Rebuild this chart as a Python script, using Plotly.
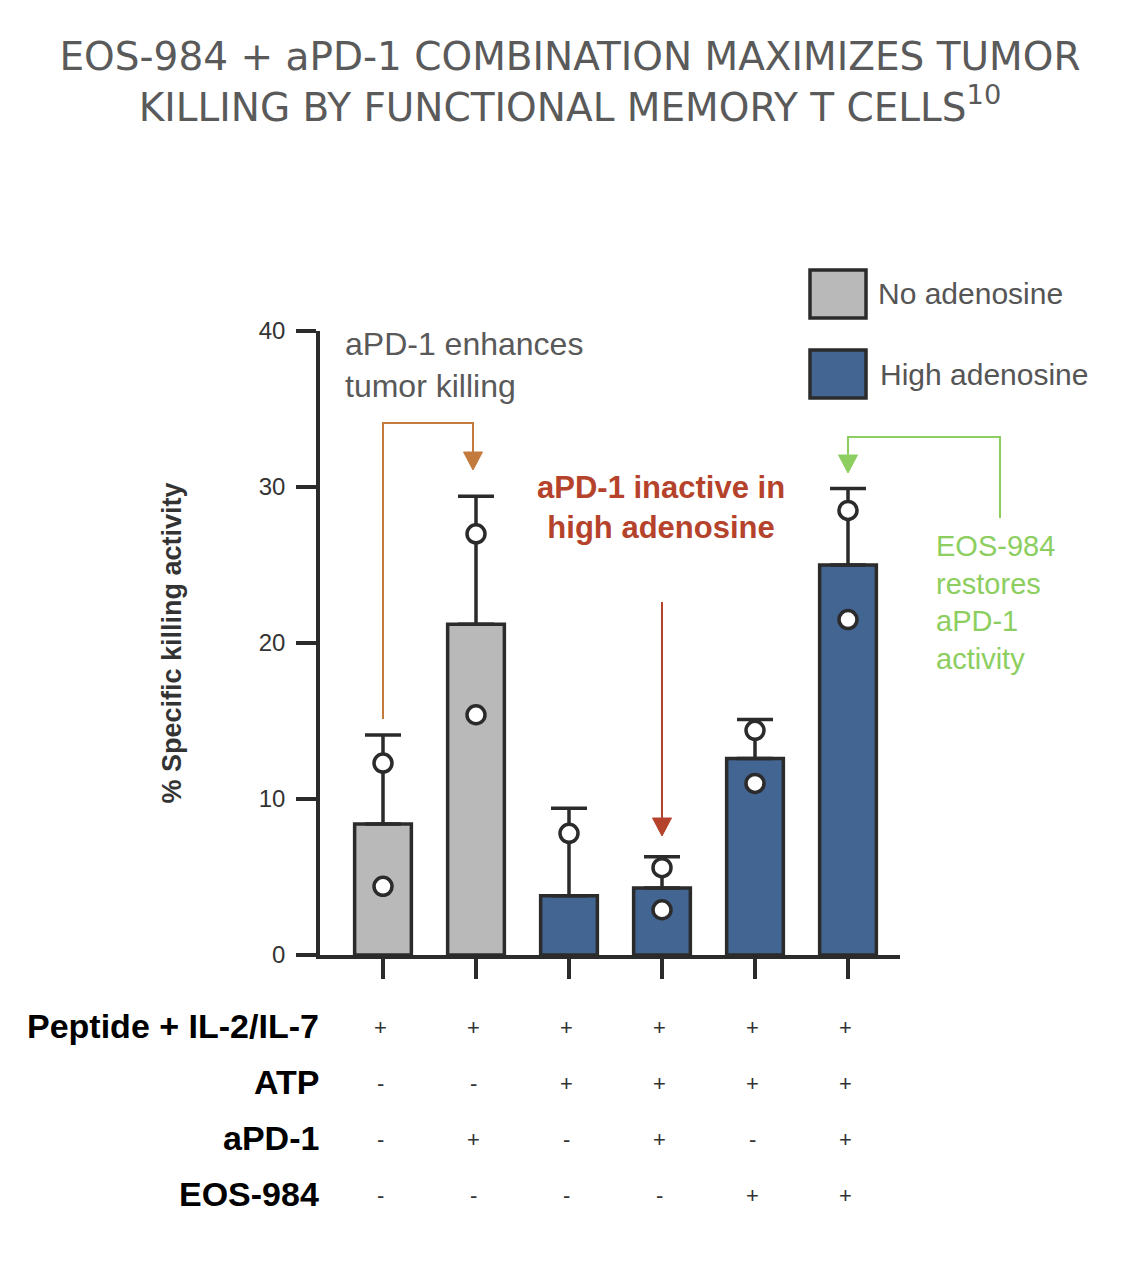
import plotly.graph_objects as go

# ---------------- data ----------------
conditions = ["1", "2", "3", "4", "5", "6"]
mean_vals = [8.4, 21.2, 3.8, 4.3, 12.6, 25.0]
err_top = [14.1, 29.4, 9.4, 6.3, 15.1, 29.9]
point_a = [12.3, 27.0, 7.8, 5.6, 14.4, 28.5]
point_b = [4.4, 15.4, -0.2, 2.9, 11.0, 21.5]
groups = ["No adenosine", "No adenosine", "High adenosine", "High adenosine",
          "High adenosine", "High adenosine"]
y_ticks = [0, 10, 20, 30, 40]
row_labels = ["Peptide + IL-2/IL-7", "ATP", "aPD-1", "EOS-984"]
row_signs = [
    ["+", "+", "+", "+", "+", "+"],
    ["-", "-", "+", "+", "+", "+"],
    ["-", "+", "-", "+", "-", "+"],
    ["-", "-", "-", "-", "+", "+"],
]

GRAY = "#b9b9b9"
BLUE = "#436592"
INK = "#2b2b2b"
ORANGE = "#c47a3c"
RED = "#b5432c"
GREEN = "#8cce60"
FONT = "Liberation Sans, Arial, sans-serif"

W, H = 1140, 1273
L, R, T, B = 320, 900, 331, 955  # plot area in pixels


def px(x):
    return (x - L) / (R - L)


def py(y):
    return (B - y) / (B - T)


xs = list(range(len(conditions)))
colors = [GRAY if g == "No adenosine" else BLUE for g in groups]
errs = [t - m for t, m in zip(err_top, mean_vals)]

fig = go.Figure()
fig.add_trace(go.Bar(
    x=xs, y=mean_vals, width=0.61,
    marker=dict(color=colors, line=dict(color=INK, width=3.5)),
    error_y=dict(type="data", array=errs, arrayminus=[0] * 6, symmetric=False,
                 color=INK, thickness=3.5, width=18),
    showlegend=False, hoverinfo="y",
))
fig.add_trace(go.Scatter(
    x=xs + xs, y=point_a + point_b, mode="markers",
    marker=dict(size=18, color="white", line=dict(color=INK, width=3.5)),
    cliponaxis=False, showlegend=False,
))

x0 = -63 / 93
x1 = x0 + (R - L) / 93

fig.update_xaxes(
    range=[x0, x1], tickvals=xs, showticklabels=False, showgrid=False, zeroline=False,
    showline=True, linecolor=INK, linewidth=3.5, ticks="outside", ticklen=20,
    tickwidth=3.5, tickcolor=INK, fixedrange=True,
)
fig.update_yaxes(
    range=[0, 40], tickvals=y_ticks, showgrid=False, zeroline=False,
    showline=True, linecolor=INK, linewidth=3.5, ticks="outside", ticklen=20,
    tickwidth=3.5, tickcolor=INK, tickfont=dict(family=FONT, size=24, color="#333333"),
    ticklabelstandoff=6, fixedrange=True,
    title=dict(text="<b>% Specific killing activity</b>", standoff=70,
               font=dict(family=FONT, size=27, color="#333333")),
)

shapes = []
annotations = []


def arrow_head(x, ytip, color, w=19, h=18):
    return dict(type="path", xref="paper", yref="paper",
                path=(f"M {px(x - w / 2)},{py(ytip - h)} L {px(x + w / 2)},{py(ytip - h)} "
                      f"L {px(x)},{py(ytip)} Z"),
                fillcolor=color, line=dict(color=color, width=1))


# legend boxes
for (ytop, ybot, col, label, tx, ty) in [
    (270, 318, GRAY, "No adenosine", 876, 293),
    (350, 398, BLUE, "High adenosine", 878, 374),
]:
    shapes.append(dict(type="rect", xref="paper", yref="paper",
                       x0=px(810), x1=px(866), y0=py(ybot), y1=py(ytop),
                       fillcolor=col, line=dict(color=INK, width=3.5)))
    annotations.append(dict(xref="paper", yref="paper", x=px(tx), y=py(ty),
                            text=label, showarrow=False, xanchor="left",
                            yanchor="middle",
                            font=dict(family=FONT, size=30, color="#555555")))

# orange bracket
shapes.append(dict(type="path", xref="paper", yref="paper",
                   path=f"M {px(383)},{py(719)} L {px(383)},{py(423)} L {px(473)},{py(423)} L {px(473)},{py(455)}",
                   line=dict(color=ORANGE, width=2)))
shapes.append(arrow_head(473, 470, ORANGE))
annotations.append(dict(xref="paper", yref="paper", x=px(343), y=py(365),
                        text="aPD-1 enhances<br>tumor killing", showarrow=False,
                        xanchor="left", yanchor="middle", align="left",
                        font=dict(family=FONT, size=32, color="#595959")))

# red note
annotations.append(dict(xref="paper", yref="paper", x=px(661), y=py(507),
                        text="<b>aPD-1 inactive in<br>high adenosine</b>", showarrow=False,
                        xanchor="center", yanchor="middle", align="center",
                        font=dict(family=FONT, size=31, color=RED)))
shapes.append(dict(type="line", xref="paper", yref="paper",
                   x0=px(662), x1=px(662), y0=py(602), y1=py(820),
                   line=dict(color=RED, width=2)))
shapes.append(arrow_head(662, 836, RED))

# green bracket
shapes.append(dict(type="path", xref="paper", yref="paper",
                   path=f"M {px(1000)},{py(518)} L {px(1000)},{py(437)} L {px(848)},{py(437)} L {px(848)},{py(457)}",
                   line=dict(color=GREEN, width=2)))
shapes.append(arrow_head(848, 473, GREEN))
annotations.append(dict(xref="paper", yref="paper", x=px(934), y=py(602),
                        text="EOS-984<br>restores<br>aPD-1<br>activity", showarrow=False,
                        xanchor="left", yanchor="middle", align="left",
                        font=dict(family=FONT, size=29, color=GREEN)))

# condition table
row_y = [1026, 1082, 1138, 1194]
for label, signs, yy in zip(row_labels, row_signs, row_y):
    annotations.append(dict(xref="paper", yref="paper", x=px(321), y=py(yy),
                            text=f"<b>{label}</b>", showarrow=False,
                            xanchor="right", yanchor="middle",
                            font=dict(family=FONT, size=34, color="#000000")))
    for xi, s in zip(xs, signs):
        annotations.append(dict(xref="x", yref="paper", x=xi - 0.03, y=py(yy + 1),
                                text=s, showarrow=False, xanchor="center",
                                yanchor="middle",
                                font=dict(family=FONT, size=22, color="#333333")))

fig.update_layout(
    width=W, height=H,
    margin=dict(l=L, r=W - R, t=T, b=H - B, pad=0),
    paper_bgcolor="white", plot_bgcolor="white",
    bargap=0.3,
    title=dict(text="EOS-984 + aPD-1 COMBINATION MAXIMIZES TUMOR<br>KILLING BY FUNCTIONAL MEMORY T CELLS<sup>10</sup>",
               x=0.5, xanchor="center", xref="container", y=1 - 70 / H, yref="container",
               yanchor="middle",
               font=dict(family="DejaVu Sans, sans-serif", size=39, color="#5a5a5a",
                         weight=400)),
    shapes=shapes, annotations=annotations,
)

fig.write_html("out.html", config={"displayModeBar": False},
               post_script="document.body.style.margin='0';document.body.style.overflow='hidden';")
